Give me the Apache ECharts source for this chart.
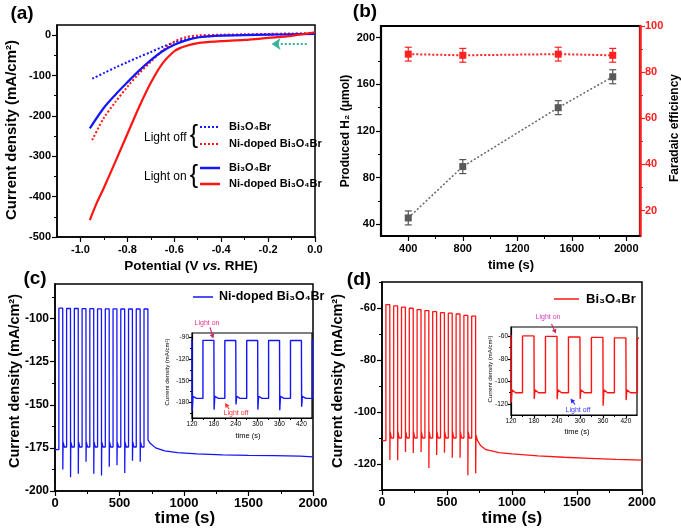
<!DOCTYPE html>
<html><head><meta charset="utf-8">
<script src="https://cdn.jsdelivr.net/npm/echarts@6/dist/echarts.min.js"></script>
<style>html,body{margin:0;padding:0;background:#fff}#c{width:681px;height:529px}</style>
</head><body><div id="c"></div>
<script>
// ---------------- DATA ----------------
// (a) LSV curves
const aBlueOffX = [-0.95,-0.9,-0.85,-0.8,-0.75,-0.7,-0.65,-0.6,-0.55,-0.5,-0.45,-0.4,-0.3,-0.2,-0.1,0];
const aBlueOffY = [-108,-94,-80,-67,-54,-42,-29,-18,-10,-5,-2.5,-1,0.5,1.5,2.5,3.5];
const aRedOffX  = [-0.95,-0.9,-0.85,-0.8,-0.75,-0.7,-0.65,-0.6,-0.55,-0.5,-0.4,-0.3,-0.2,-0.1,0];
const aRedOffY  = [-260,-205,-165,-128,-95,-66,-38,-16,-5,-1,1,2,3,4,5];
const aBlueOnX  = [-0.96,-0.9,-0.85,-0.8,-0.75,-0.7,-0.65,-0.6,-0.55,-0.5,-0.45,-0.4,-0.3,-0.2,-0.1,0];
const aBlueOnY  = [-231,-180,-147,-117,-88,-62,-40,-24,-13,-6,-3,-1.5,0,1,2,3];
const aRedOnX   = [-0.96,-0.93,-0.9,-0.85,-0.8,-0.75,-0.7,-0.65,-0.6,-0.575,-0.55,-0.5,-0.45,-0.4,-0.3,-0.2,-0.1,0];
const aRedOnY   = [-458,-415,-378,-312,-245,-178,-118,-70,-40,-32,-27,-20,-17,-15,-12,-7,-2,7];
const aArrow    = [[-0.035,-22],[-0.185,-22]];
const aXTicks = [-1.0,-0.8,-0.6,-0.4,-0.2,0.0];
const aXMinor = [-0.9,-0.7,-0.5,-0.3,-0.1];
const aYTicks = [-500,-400,-300,-200,-100,0];
const aYMinor = [-450,-350,-250,-150,-50];

// (b) H2 production and Faradaic efficiency
const bTime  = [400,800,1500,1900];
const bH2    = [45.5,89.5,140,166.5];
const bH2Err = [6,6,6,6];
const bFE    = [87.8,87.3,87.8,87.3];
const bFEErr = [3,3,3,3];
const bXTicks = [400,800,1200,1600,2000];
const bXMinor = [600,1000,1400,1800];
const bYTicks = [40,80,120,160,200];
const bYMinor = [60,100,140,180];
const bY2Ticks = [20,40,60,80,100];
const bY2Minor = [30,50,70,90];

// (c)/(d) chopped-light chronoamperometry (light on 30 s / off 30 s)
const cycleOnsets = [30,90,150,210,270,330,390,450,510,570,630,690];
const cStart   = -176;
const cHigh    = [-94,-94.2,-94.2,-94.3,-94.3,-94.4,-94.4,-94.4,-94.5,-94.5,-94.5,-94.5];
const cSpike   = [-187.5,-192,-190,-183,-190,-191,-186,-185,-189.5,-182.5,-183,null];
const cRecover = [-171.5,-171.5,-171.5,-171.5,-171.5,-171.5,-171.5,-171.5,-171.5,-171.5,-171.5];
const cBase    = [-174.5,-174.5,-174.5,-174.5,-174.5,-174.5,-174.5,-174.5,-174.5,-174.5,-174.5];
const cTail    = [[721,-170.5],[740,-172.5],[780,-175],[850,-176.8],[950,-177.8],[1100,-178.5],[1300,-179],[1500,-179.3],[1700,-179.5],[1900,-179.8],[2000,-180.2]];

const dStart   = -111;
const dHigh    = [-58.7,-59.2,-59.7,-60.1,-60.6,-61,-61.4,-61.8,-62,-62.3,-62.8,-63.1];
const dSpike   = [-118.5,-118.6,-115.4,-115.8,-115.4,-121.5,-116.5,-115.7,-117.6,-117.6,-124.3,-123.6];
const dRecover = [-107.5,-107.5,-107.5,-107.5,-107.5,-107.5,-107.5,-107.5,-107.5,-107.5,-107.5];
const dBase    = [-110,-110,-110,-110,-110,-110,-110,-110,-110,-110,-110];
const dTail    = [[723,-109],[735,-111],[760,-113],[800,-114.5],[900,-115.6],[1000,-116.1],[1200,-116.9],[1400,-117.4],[1600,-117.8],[1800,-118.2],[2000,-118.5]];

const cXTicks = [0,500,1000,1500,2000];
const cXMinor = [250,750,1250,1750];
const cYTicks = [-200,-175,-150,-125,-100];
const cYMinor = [-187.5,-162.5,-137.5,-112.5,-87.5];
const dYTicks = [-120,-100,-80,-60];
const dYMinor = [-130,-110,-90,-70,-50];
const inXTicks = [120,180,240,300,360,420];
const inXMinor = [150,210,270,330,390];
const ciYTicks = [-90,-120,-150,-180];
const ciYMinor = [-105,-135,-165,-195];
const diYTicks = [-60,-80,-100,-120];
const diYMinor = [-70,-90,-110];

// ---------------- BUILD ----------------
const FONT = '"Liberation Sans", Arial, sans-serif';
const zip = (xs, ys) => xs.map((x, i) => [x, ys[i]]);

function buildWave(start, high, spike, recover, base, tail) {
  const pts = [[0, start]];
  let level = start;
  const n = cycleOnsets.length;
  cycleOnsets.forEach((t, k) => {
    pts.push([t, level], [t, high[k]], [t + 30, high[k]]);
    if (k < n - 1) {
      if (spike[k] != null) pts.push([t + 30.6, spike[k]]);
      pts.push([t + 32.5, recover[k]], [t + 42, base[k]]);
      level = base[k];
    } else {
      if (spike[k] != null) pts.push([t + 30.6, spike[k]]);
      tail.forEach(p => pts.push(p));
    }
  });
  return pts;
}
const cWave = buildWave(cStart, cHigh, cSpike, cRecover, cBase, cTail);
const dWave = buildWave(dStart, dHigh, dSpike, dRecover, dBase, dTail);

function mainAxis(grid, min, max, ticks, opts) {
  opts = opts || {};
  return {
    type: 'value', gridIndex: grid, min: min, max: max,
    position: opts.position,
    axisLine: {show: true, onZero: false, lineStyle: {color: opts.color || '#000', width: opts.lw || 1.5}},
    axisTick: {show: true, inside: false, length: opts.tl || 5, customValues: ticks,
               lineStyle: {color: opts.color || '#000', width: 1.2}},
    axisLabel: {show: true, customValues: ticks, color: opts.color || '#000', fontFamily: FONT,
                fontWeight: opts.fw || 'bold', fontSize: opts.fs || 11, margin: opts.margin || 6,
                formatter: opts.fmt || (v => String(v))},
    splitLine: {show: false}
  };
}
function minorAxis(grid, min, max, ticks, opts) {
  opts = opts || {};
  return {
    type: 'value', gridIndex: grid, min: min, max: max, position: opts.position,
    axisLine: {show: false, onZero: false},
    axisTick: {show: true, inside: false, length: opts.tl || 3, customValues: ticks,
               lineStyle: {color: opts.color || '#000', width: 1}},
    axisLabel: {show: false}, splitLine: {show: false}
  };
}

function errBars(color) {
  return function (params, api) {
    const x = api.value(0), lo = api.value(1), hi = api.value(2);
    const p1 = api.coord([x, lo]), p2 = api.coord([x, hi]);
    const w = 3.5;
    const st = {stroke: color, lineWidth: 1.2};
    return {type: 'group', children: [
      {type: 'line', shape: {x1: p1[0], y1: p1[1], x2: p2[0], y2: p2[1]}, style: st},
      {type: 'line', shape: {x1: p1[0] - w, y1: p1[1], x2: p1[0] + w, y2: p1[1]}, style: st},
      {type: 'line', shape: {x1: p2[0] - w, y1: p2[1], x2: p2[0] + w, y2: p2[1]}, style: st}
    ]};
  };
}

function arrow(x1, y1, x2, y2, color) {
  const ang = Math.atan2(y2 - y1, x2 - x1), L = 4.5, W = 2.4;
  const bx = x2 - L * Math.cos(ang), by = y2 - L * Math.sin(ang);
  const px = -Math.sin(ang) * W, py = Math.cos(ang) * W;
  return [
    {type: 'line', shape: {x1: x1, y1: y1, x2: bx, y2: by}, style: {stroke: color, lineWidth: 1.1}, z: 100},
    {type: 'polygon', shape: {points: [[x2, y2], [bx + px, by + py], [bx - px, by - py]]}, style: {fill: color}, z: 100}
  ];
}
function txt(x, y, text, size, opts) {
  opts = opts || {};
  return {type: 'text', x: x, y: y, rotation: opts.rot || 0, z: 100,
    style: {text: text, fill: opts.color || '#000', font: (opts.weight || 'bold') + ' ' + size + 'px ' + FONT,
            align: opts.align || 'center', verticalAlign: 'middle'}};
}

const BLUE = '#1414ff', RED = '#ff1414';

const grids = [
  {left: 57, top: 25, width: 258, height: 212},   // 0 a
  {left: 381, top: 26, width: 259, height: 210},  // 1 b
  {left: 55, top: 284, width: 258, height: 207},  // 2 c
  {left: 382, top: 282, width: 260, height: 208}, // 3 d
  {left: 192, top: 333, width: 120, height: 85},  // 4 c inset
  {left: 511, top: 327, width: 126, height: 88}   // 5 d inset
].map((g, i) => Object.assign(g, {show: true, borderColor: '#000', borderWidth: i === 1 ? 2.2 : (i >= 4 ? 1.2 : 1.5),
  outerBoundsMode: 'none', containLabel: false}));

const ciX = [120, 449], diX = [120, 449];
const ciY = [-201.6, -84], diY = [-129.7, -51.8];

const xAxes = [
  mainAxis(0, -1.1, 0.0, aXTicks, {fmt: v => v.toFixed(1), margin: 7}),
  mainAxis(1, 200, 2100, bXTicks, {margin: 7}),
  mainAxis(2, 0, 2000, cXTicks, {fs: 13, margin: 6}),
  mainAxis(3, 0, 2000, cXTicks, {fs: 12.5, margin: 6}),
  mainAxis(4, ciX[0], ciX[1], inXTicks, {fs: 6.5, margin: 3, tl: 3, lw: 1.2, fw: 'normal'}),
  mainAxis(5, diX[0], diX[1], inXTicks, {fs: 6.5, margin: 3, tl: 3, lw: 1.2, fw: 'normal'}),
  minorAxis(0, -1.1, 0.0, aXMinor),
  minorAxis(1, 200, 2100, bXMinor),
  minorAxis(2, 0, 2000, cXMinor),
  minorAxis(3, 0, 2000, cXMinor),
  minorAxis(4, ciX[0], ciX[1], inXMinor, {tl: 2}),
  minorAxis(5, diX[0], diX[1], inXMinor, {tl: 2})
];
xAxes.forEach(a => { a.position = 'bottom'; });

const yAxes = [
  mainAxis(0, -500, 25, aYTicks, {position: 'left'}),
  mainAxis(1, 30, 210, bYTicks, {position: 'left'}),
  mainAxis(1, 9, 100, bY2Ticks, {position: 'right', color: '#ff2020', lw: 2.5, margin: 5}),
  mainAxis(2, -200, -80, cYTicks, {position: 'left', fs: 12}),
  mainAxis(3, -130, -50, dYTicks, {position: 'left', fs: 11}),
  mainAxis(4, ciY[0], ciY[1], ciYTicks, {position: 'left', fs: 6.5, margin: 3, tl: 3, lw: 1.2, fw: 'normal'}),
  mainAxis(5, diY[0], diY[1], diYTicks, {position: 'left', fs: 6.5, margin: 3, tl: 3, lw: 1.2, fw: 'normal'}),
  minorAxis(0, -500, 25, aYMinor, {position: 'left'}),
  minorAxis(1, 30, 210, bYMinor, {position: 'left'}),
  minorAxis(1, 9, 100, bY2Minor, {position: 'right', color: '#ff2020'}),
  minorAxis(2, -200, -80, cYMinor, {position: 'left'}),
  minorAxis(3, -130, -50, dYMinor, {position: 'left'}),
  minorAxis(4, ciY[0], ciY[1], ciYMinor, {position: 'left', tl: 2}),
  minorAxis(5, diY[0], diY[1], diYMinor, {position: 'left', tl: 2})
];

const lineBase = {type: 'line', showSymbol: false, symbol: 'none', silent: true, animation: false};
const series = [
  // (a)
  Object.assign({}, lineBase, {xAxisIndex: 0, yAxisIndex: 0, data: zip(aBlueOffX, aBlueOffY), smooth: 0.3,
    lineStyle: {color: BLUE, width: 2, type: [2, 2]}}),
  Object.assign({}, lineBase, {xAxisIndex: 0, yAxisIndex: 0, data: zip(aRedOffX, aRedOffY), smooth: 0.3,
    lineStyle: {color: RED, width: 2, type: [2, 2]}}),
  Object.assign({}, lineBase, {xAxisIndex: 0, yAxisIndex: 0, data: zip(aBlueOnX, aBlueOnY), smooth: 0.3,
    lineStyle: {color: BLUE, width: 2.2}}),
  Object.assign({}, lineBase, {xAxisIndex: 0, yAxisIndex: 0, data: zip(aRedOnX, aRedOnY), smooth: 0.3,
    lineStyle: {color: RED, width: 2.2},
    markLine: {silent: true, animation: false, symbol: ['none', 'arrow'], symbolSize: [9, 9],
      label: {show: false}, lineStyle: {color: '#37b49c', width: 2, type: [2, 2]},
      data: [[{coord: aArrow[0]}, {coord: aArrow[1]}]]}}),
  // (b)
  {type: 'custom', xAxisIndex: 1, yAxisIndex: 1, renderItem: errBars('#555'), silent: true, animation: false,
    data: bTime.map((t, i) => [t, bH2[i] - bH2Err[i], bH2[i] + bH2Err[i]]), z: 3},
  {type: 'line', xAxisIndex: 1, yAxisIndex: 1, data: zip(bTime, bH2), symbol: 'rect', symbolSize: 7, showSymbol: true,
    silent: true, animation: false, itemStyle: {color: '#595959'}, lineStyle: {color: '#666', width: 1.5, type: [2, 2]}, z: 4},
  {type: 'custom', xAxisIndex: 1, yAxisIndex: 2, renderItem: errBars('#ff2020'), silent: true, animation: false,
    data: bTime.map((t, i) => [t, bFE[i] - bFEErr[i], bFE[i] + bFEErr[i]]), z: 3},
  {type: 'line', xAxisIndex: 1, yAxisIndex: 2, data: zip(bTime, bFE), symbol: 'rect', symbolSize: 7, showSymbol: true,
    silent: true, animation: false, itemStyle: {color: '#ff2020'}, lineStyle: {color: '#ff2020', width: 2, type: [2, 2]}, z: 4},
  // (c)
  Object.assign({}, lineBase, {xAxisIndex: 2, yAxisIndex: 3, data: cWave, lineStyle: {color: BLUE, width: 1.3}}),
  Object.assign({}, lineBase, {xAxisIndex: 4, yAxisIndex: 5, data: cWave, lineStyle: {color: BLUE, width: 1.4}}),
  // (d)
  Object.assign({}, lineBase, {xAxisIndex: 3, yAxisIndex: 4, data: dWave, lineStyle: {color: RED, width: 1.3}}),
  Object.assign({}, lineBase, {xAxisIndex: 5, yAxisIndex: 6, data: dWave, lineStyle: {color: RED, width: 1.4}})
];

const sub = 'Bi\u2083O\u2084Br';
const graphics = [].concat(
  // panel labels
  [txt(22, 14, '(a)', 19), txt(365, 12, '(b)', 19), txt(35, 279, '(c)', 19), txt(359, 280, '(d)', 19)],
  // (a) titles
  [txt(12, 130, 'Current density (mA/cm\u00B2)', 15, {rot: Math.PI / 2}),
   {type: 'text', x: 191, y: 266, z: 100, style: {text: '{b|Potential (V }{i|vs.}{b| RHE)}', align: 'center', verticalAlign: 'middle',
     rich: {b: {font: 'bold 13.5px ' + FONT, fill: '#000'}, i: {font: 'italic bold 13.5px ' + FONT, fill: '#000'}}}}],
  // (a) legend
  [txt(144, 138, 'Light off', 12, {weight: 'normal', align: 'left'}),
   txt(194, 136.5, '{', 25, {weight: 'normal'}),
   {type: 'line', shape: {x1: 200, y1: 127, x2: 220, y2: 127}, style: {stroke: BLUE, lineWidth: 2, lineDash: [2, 2]}, z: 100},
   {type: 'line', shape: {x1: 200, y1: 144, x2: 220, y2: 144}, style: {stroke: RED, lineWidth: 2, lineDash: [2, 2]}, z: 100},
   txt(229, 127, sub, 11, {align: 'left'}),
   txt(229, 144, 'Ni-doped ' + sub, 11, {align: 'left'}),
   txt(144, 177, 'Light on', 12, {weight: 'normal', align: 'left'}),
   txt(194, 176, '{', 25, {weight: 'normal'}),
   {type: 'line', shape: {x1: 200, y1: 168, x2: 220, y2: 168}, style: {stroke: BLUE, lineWidth: 2.5}, z: 100},
   {type: 'line', shape: {x1: 200, y1: 184, x2: 220, y2: 184}, style: {stroke: RED, lineWidth: 2.5}, z: 100},
   txt(229, 168, sub, 11, {align: 'left'}),
   txt(229, 184, 'Ni-doped ' + sub, 11, {align: 'left'})],
  // (b) titles
  [txt(346, 131, 'Produced H\u2082 (\u03BCmol)', 12, {rot: Math.PI / 2}),
   txt(675, 128, 'Faradaic efficiency', 12, {rot: Math.PI / 2}),
   txt(511, 265, 'time (s)', 13)],
  // (c) titles / legend / inset
  [txt(15, 381, 'Current density (mA/cm\u00B2)', 14.5, {rot: Math.PI / 2}),
   txt(185, 518, 'time (s)', 17),
   {type: 'line', shape: {x1: 193, y1: 297, x2: 213, y2: 297}, style: {stroke: BLUE, lineWidth: 1.5}, z: 100},
   txt(219, 297, 'Ni-doped ' + sub, 12.5, {align: 'left'}),
   txt(167.5, 372, 'Current density (mA/cm\u00B2)', 6, {rot: Math.PI / 2, weight: 'normal'}),
   txt(248, 436, 'time (s)', 7.5, {weight: 'normal'}),
   txt(207, 323, 'Light on', 7, {weight: 'normal', color: '#e8338a'}),
   txt(236, 413.5, 'Light off', 7, {weight: 'normal', color: '#ff3030'})],
  arrow(210, 327.5, 213.3, 338.5, '#c8285a'),
  arrow(229, 409, 225, 403, '#ff3030'),
  // (d) titles / legend / inset
  [txt(338, 381, 'Current density (mA/cm\u00B2)', 14.5, {rot: Math.PI / 2}),
   txt(512, 518, 'time (s)', 17),
   {type: 'line', shape: {x1: 554, y1: 299, x2: 579, y2: 299}, style: {stroke: RED, lineWidth: 1.5}, z: 100},
   txt(586, 299, sub, 13, {align: 'left'}),
   txt(490.5, 369, 'Current density (mA/cm\u00B2)', 6, {rot: Math.PI / 2, weight: 'normal'}),
   txt(577, 431.5, 'time (s)', 7.5, {weight: 'normal'}),
   txt(548, 317, 'Light on', 7, {weight: 'normal', color: '#d63cc0'}),
   txt(578, 410.5, 'Light off', 7, {weight: 'normal', color: '#3a3aff'})],
  arrow(551.5, 324, 556, 333.5, '#c8285a'),
  arrow(575, 404.5, 570.5, 398.5, '#2a2aff')
);

const chart = echarts.init(document.getElementById('c'), null, {renderer: 'canvas'});
chart.setOption({
  animation: false,
  backgroundColor: '#fff',
  grid: grids,
  xAxis: xAxes,
  yAxis: yAxes,
  series: series,
  graphic: graphics
});
</script></body></html>
